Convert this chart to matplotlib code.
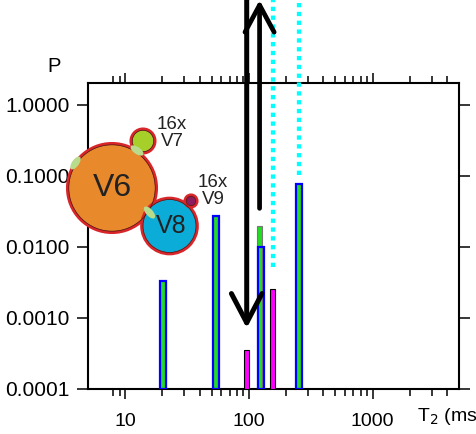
import numpy as np
import matplotlib
matplotlib.use("Agg")
import matplotlib.pyplot as plt
from matplotlib.patches import Circle, Ellipse

plt.rcParams['font.family'] = ['Liberation Sans', 'DejaVu Sans']

# data
green_x = [20.2, 54, 122, 254]
green_p = [0.0033, 0.027, 0.020, 0.078]
blue_x = [20.2, 54, 125, 254]
blue_p = [0.0033, 0.027, 0.0099, 0.078]
magenta_x = [96, 155]
magenta_p = [0.00035, 0.0026]
baseline_x = [14, 480]
cyan_x = [157, 255]
cyan_low = [0.0052, 0.103]
arrow_down = (96, 7.2e-4)     # x, tip
arrow_up = (122, 0.035)       # x, tail
y_ticks = [1e-4, 1e-3, 1e-2, 1e-1, 1.0]
y_labels = ['0.0001', '0.0010', '0.0100', '0.1000', '1.0000']
x_ticks = [10, 100, 1000]
x_labels = ['10', '100', '1000']
x_minor = [8, 9, 20, 30, 40, 50, 60, 70, 80, 90,
           200, 300, 400, 500, 600, 700, 800, 900, 2000, 3000, 4000]

YMIN, YMAX = 1e-4, 2.04
TOP = 30  # data y at top of figure

fig = plt.figure(figsize=(4.76, 4.34), dpi=100)
ax = fig.add_axes([88 / 476, 45 / 434, 371 / 476, 306 / 434])
ax.set_xscale('log')
ax.set_yscale('log')
ax.set_xlim(5, 5000)
ax.set_ylim(YMIN, YMAX)


def log_bar(xs, ps, w_dec, **kw):
    xs = np.asarray(xs, float)
    left = xs * 10 ** (-w_dec / 2)
    right = xs * 10 ** (w_dec / 2)
    ax.bar(left, np.asarray(ps) - YMIN, width=right - left, bottom=YMIN,
           align='edge', **kw)


ax.plot(baseline_x, [YMIN, YMIN], color='blue', lw=1.2, zorder=2)
log_bar(green_x, green_p, 0.041, color='#22dd22', edgecolor='#777777', lw=0.8, zorder=3)
log_bar(blue_x, blue_p, 0.053, facecolor='none', edgecolor='blue', lw=1.6, zorder=4)
log_bar(magenta_x, magenta_p, 0.043, color='magenta', edgecolor='black', lw=0.8, zorder=4)

for cx, lo in zip(cyan_x, cyan_low):
    ax.plot([cx, cx], [lo, TOP * 3], color='cyan', lw=3.1, ls=(0, (1, 1.05)),
            dash_capstyle='butt', clip_on=False, zorder=5)

ax.annotate('', xy=(arrow_down[0], arrow_down[1]), xytext=(arrow_down[0], TOP * 3),
            arrowprops=dict(arrowstyle='->,head_length=21,head_width=11', mutation_scale=1,
                            lw=3.6, color='black', shrinkA=0, shrinkB=0),
            annotation_clip=False, zorder=6)
ax.annotate('', xy=(arrow_up[0], TOP), xytext=(arrow_up[0], arrow_up[1]),
            arrowprops=dict(arrowstyle='->,head_length=19.5,head_width=10.5', mutation_scale=1,
                            lw=3.4, color='black', shrinkA=0, shrinkB=0),
            annotation_clip=False, zorder=6)

for s in ax.spines.values():
    s.set_linewidth(1.5)
ax.set_yticks(y_ticks)
ax.set_yticklabels(y_labels)
ax.yaxis.set_minor_locator(matplotlib.ticker.NullLocator())
ax.set_xticks(x_ticks)
ax.set_xticklabels(x_labels)
ax.set_xticks(x_minor, minor=True)
ax.xaxis.set_minor_formatter(matplotlib.ticker.NullFormatter())
ax.tick_params(axis='both', which='both', direction='out', top=True, right=True, width=1.1)
ax.tick_params(axis='x', which='major', length=7.5, pad=10, labelsize=14)
ax.tick_params(axis='x', which='minor', length=5)
ax.tick_params(axis='y', which='major', length=8, pad=5, labelsize=15)

fig.text(54 / 476, 1 - 67 / 434, 'P', fontsize=14.5, ha='center', va='center')
fig.text(417 / 476, 1 - 421 / 434, 'T$_2$ (ms)', fontsize=14, ha='left', va='baseline')

# bubble sketch in pixel coordinates
ov = fig.add_axes([0, 0, 1, 1])
ov.set_xlim(0, 476)
ov.set_ylim(434, 0)
ov.axis('off')

bubbles = [
    (112, 188, 44.5, '#e8892b'),
    (143, 141, 12, '#a6cf2a'),
    (169.5, 226, 27.8, '#0cacd8'),
    (191, 201, 6, '#8c1c5e'),
]
ov.plot([186, 189.5], [208, 204], color='#b9a6d6', lw=2, zorder=1)
for cx, cy, r, fc in bubbles:
    ov.add_patch(Circle((cx, cy), r, facecolor=fc, edgecolor='#d8262a', lw=2.2, zorder=2))
    ov.add_patch(Circle((cx, cy), r - 1.3, facecolor='none', edgecolor='#4a1a14', lw=0.5, zorder=3))

spots = [(137, 150.5, 35), (75.5, 163, -55), (149.5, 212.5, 48)]
for sx, sy, ang in spots:
    ov.add_patch(Ellipse((sx, sy), 15, 7, angle=ang, facecolor='#b8dc8c',
                         edgecolor='none', zorder=4))

ov.text(112.5, 188, 'V6', fontsize=23, ha='center', va='center', color='#222222', zorder=5)
ov.text(171, 226, 'V8', fontsize=18, ha='center', va='center', color='#222222', zorder=5)
ov.text(172, 133, '16x\nV7', fontsize=13.5, ha='center', va='center', linespacing=0.95,
        color='#222222', zorder=5)
ov.text(213, 191, '16x\nV9', fontsize=13.5, ha='center', va='center', linespacing=0.95,
        color='#222222', zorder=5)

fig.savefig('out.png', dpi=100)
